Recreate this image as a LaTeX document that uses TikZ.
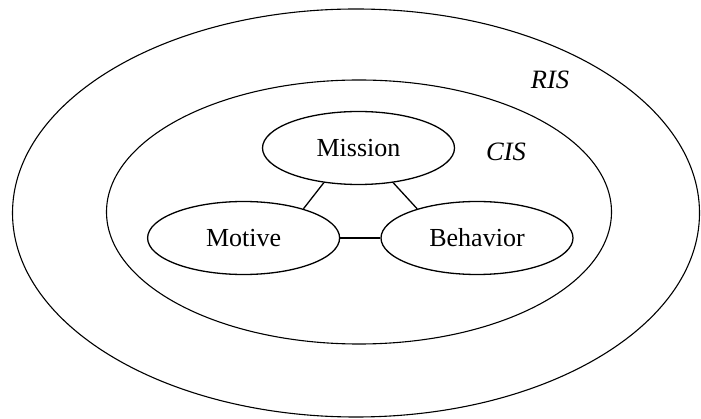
\documentclass[tikz,border=0pt]{standalone}
\usepackage{fontspec}
\setmainfont{Liberation Serif}
\usetikzlibrary{shapes.geometric}
\begin{document}
\begin{tikzpicture}[x=1pt,y=-1pt,
  ring/.style={draw, ellipse, line width=1.1pt, inner sep=0pt},
  concept/.style={draw, ellipse, line width=1.3pt, inner sep=0pt,
    minimum width=192pt, minimum height=73pt, font=\fontsize{26}{30}\selectfont},
  tag/.style={font=\fontsize{26.5}{30}\selectfont\itshape, inner sep=0pt},
  link/.style={line width=1.3pt}]
  \useasboundingbox (0,0) rectangle (701,419);
  % outer and inner scopes
  \node[ring, minimum width=687pt, minimum height=408pt] (ris) at (356,213) {};
  \node[ring, minimum width=505pt, minimum height=264pt] (cis) at (359,212) {};
  \node[tag] (rislabel) at (550,80) {RIS};
  \node[tag] (cislabel) at (506,152) {CIS};
  % the three core concepts
  \node[concept] (mission) at (358.5,148) {Mission};
  \node[concept] (motive) at (243.6,238) {Motive};
  \node[concept] (behavior) at (477,238) {Behavior};
  % links between them
  \draw[link] (mission.225) -- (motive.26);
  \draw[link] (mission.315) -- (behavior.154);
  \draw[link] (motive.east) -- (behavior.west);
\end{tikzpicture}
\end{document}
